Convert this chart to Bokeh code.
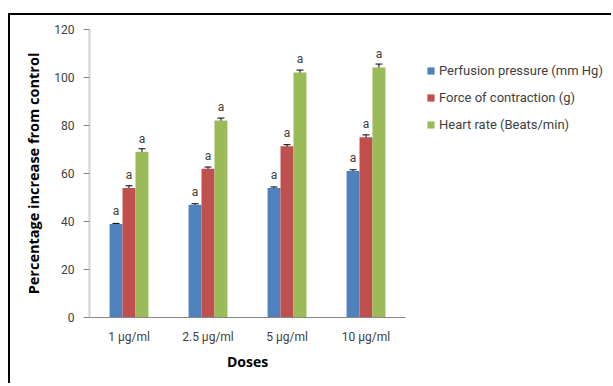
from bokeh.plotting import figure
from bokeh.models import ColumnDataSource, Range1d, Legend, LegendItem, Whisker, FixedTicker, Title
from bokeh.core.properties import value
from bokeh.embed import file_html
from bokeh.resources import INLINE

doses = ["1 µg/ml", "2.5 µg/ml", "5 µg/ml", "10 µg/ml"]
perfusion = [39, 47, 54, 61]
perfusion_err = [0.2, 0.4, 0.4, 0.55]
force = [54, 62, 71.4, 75.1]
force_err = [0.9, 0.7, 0.6, 1.0]
heart = [69.1, 82.1, 102.1, 104.2]
heart_err = [1.2, 1.0, 1.0, 1.4]
series_names = ["Perfusion pressure (mm Hg)", "Force of contraction (g)", "Heart rate (Beats/min)"]
sig_labels = ["a", "a", "a", "a"]
y_ticks = [0, 20, 40, 60, 80, 100, 120]

colors = ["#4F81BD", "#C0504D", "#9BBB59"]
bw = 0.164
offsets = [-bw, 0.0, bw]

# layout geometry (pixels)
W, H = 603, 370
left_b, right_b, top_b, bottom_b = 79, 3, 14, 68
axis_px = 316                      # pixel length of the category axis
frame_px = W - left_b - right_b
n = len(doses)
x_end = n * frame_px / axis_px     # frame extends right to hold the legend

centers = [i + 0.5 for i in range(n)]

p = figure(x_range=Range1d(0, x_end), y_range=Range1d(0, 120), width=W, height=H,
           output_backend="svg", toolbar_location=None,
           min_border_left=left_b, min_border_right=right_b, min_border_top=top_b, min_border_bottom=bottom_b,
           styles={"margin-top": "13px", "margin-left": "8px",
                   "border-top": "2px solid black", "border-left": "2px solid black"})
p.xgrid.grid_line_color = None
p.ygrid.grid_line_color = None
p.outline_line_color = None

renderers = []
for vals, errs, col, off in zip([perfusion, force, heart], [perfusion_err, force_err, heart_err], colors, offsets):
    xs = [c + off for c in centers]
    src = ColumnDataSource(dict(x=xs, top=vals, upper=[v + e for v, e in zip(vals, errs)],
                                lower=[v - e for v, e in zip(vals, errs)], lab=sig_labels))
    r = p.vbar(x="x", top="top", width=bw, bottom=0, source=src, fill_color=col, line_color=None)
    renderers.append(r)
    w = Whisker(base="x", upper="upper", lower="lower", source=src, line_color="black", line_width=1)
    w.upper_head.size = 7
    w.lower_head.size = 7
    w.upper_head.line_color = "black"
    w.lower_head.line_color = "black"
    p.add_layout(w)
    p.text(x="x", y="top", text="lab", source=src,
           text_align="center", text_baseline="alphabetic", y_offset=-13,
           text_font=value("Roboto"), text_font_size="12px", text_color="#404040")

legend = Legend(items=[LegendItem(label=nm, renderers=[r]) for nm, r in zip(series_names, renderers)],
                location=(335, 181), glyph_width=9, glyph_height=9, label_height=20, spacing=7,
                padding=2, margin=0, label_standoff=4, border_line_alpha=0, background_fill_alpha=0,
                label_text_font="Roboto", label_text_font_size="13px", label_text_color="#404040")
p.add_layout(legend, "center")

# y axis
p.yaxis.ticker = FixedTicker(ticks=y_ticks)
p.yaxis.axis_line_color = "#D0D0D0"
p.yaxis.axis_line_width = 2
p.yaxis.major_tick_line_color = "#868686"
p.yaxis.major_tick_out = 6
p.yaxis.major_tick_in = 0
p.yaxis.minor_tick_line_color = None
p.yaxis.major_label_standoff = 9
p.yaxis.major_label_text_font = "Roboto"
p.yaxis.major_label_text_font_size = "12px"
p.yaxis.major_label_text_color = "#404040"
p.yaxis.axis_label = "Percentage increase from control"
p.yaxis.axis_label_text_font = "Open Sans"
p.yaxis.axis_label_text_font_style = "bold"
p.yaxis.axis_label_text_font_size = "14.5px"
p.yaxis.axis_label_text_color = "black"
p.yaxis.axis_label_standoff = 8

# x axis (category labels at the group centres, line only under the groups)
p.xaxis.ticker = FixedTicker(ticks=centers)
p.xaxis.major_label_overrides = {c: d for c, d in zip(centers, doses)}
p.xaxis.bounds = (0, n)
p.xaxis.axis_line_color = "#868686"
p.xaxis.major_tick_line_color = None
p.xaxis.minor_tick_line_color = None
p.xaxis.major_tick_out = 0
p.xaxis.major_tick_in = 0
p.xaxis.major_label_standoff = 12
p.xaxis.major_label_text_font = "Roboto"
p.xaxis.major_label_text_font_size = "12px"
p.xaxis.major_label_text_color = "#404040"

# x axis title, centred under the category axis (not under the wider frame)
xtitle = Title(text="Doses", align="center", text_font="Open Sans", text_font_style="bold",
               text_font_size="14px", text_color="black", standoff=6,
               offset=0)
xtitle.align = "left"
xtitle.offset = axis_px / 2 - 20.5
p.add_layout(xtitle, "below")

open("out.html", "w").write(file_html(p, INLINE))
